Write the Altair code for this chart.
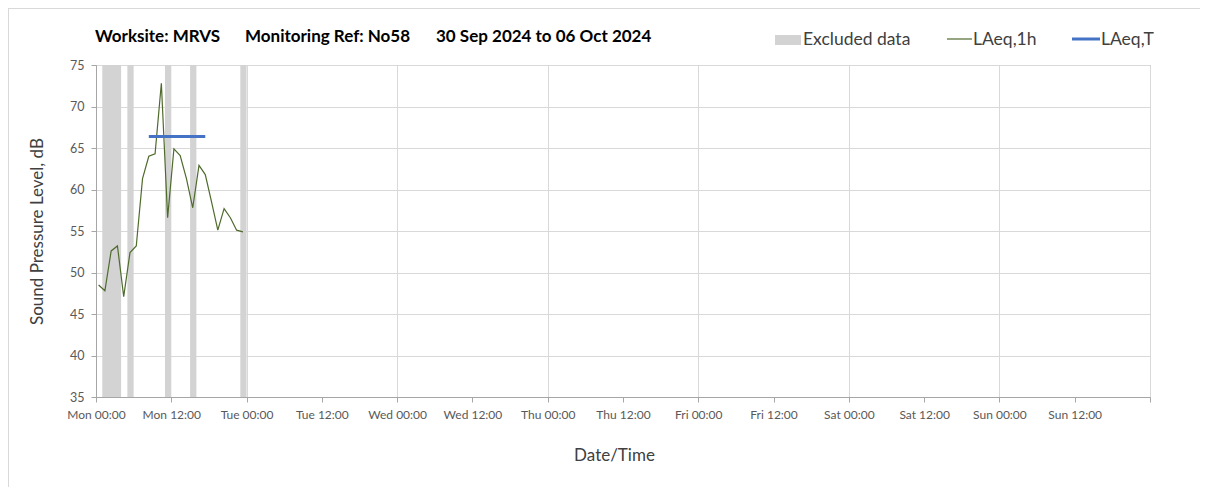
import altair as alt
import pandas as pd

# ---- data ----
laeq_1h_time = [
    "2024-09-30T00:25:00", "2024-09-30T01:25:00", "2024-09-30T02:25:00", "2024-09-30T03:25:00",
    "2024-09-30T04:25:00", "2024-09-30T05:25:00", "2024-09-30T06:25:00", "2024-09-30T07:25:00",
    "2024-09-30T08:25:00", "2024-09-30T09:25:00", "2024-09-30T10:25:00", "2024-09-30T11:25:00",
    "2024-09-30T12:25:00", "2024-09-30T13:25:00", "2024-09-30T14:25:00", "2024-09-30T15:25:00",
    "2024-09-30T16:25:00", "2024-09-30T17:25:00", "2024-09-30T18:25:00", "2024-09-30T19:25:00",
    "2024-09-30T20:25:00", "2024-09-30T21:25:00", "2024-09-30T22:25:00", "2024-09-30T23:25:00",
]
laeq_1h_value = [
    48.5, 47.8, 52.6, 53.2, 47.1, 52.4, 53.2, 61.3,
    64.0, 64.3, 72.8, 56.6, 64.9, 64.1, 61.3, 57.8,
    62.9, 61.8, 58.5, 55.1, 57.7, 56.6, 55.1, 54.9,
]
laeq_t_start = ["2024-09-30T08:25:00"]
laeq_t_end = ["2024-09-30T17:25:00"]
laeq_t_value = [66.4]

excluded_start = ["2024-09-30T01:00:00", "2024-09-30T05:00:00", "2024-09-30T11:00:00",
                  "2024-09-30T15:00:00", "2024-09-30T23:00:00"]
excluded_end = ["2024-09-30T04:00:00", "2024-09-30T06:00:00", "2024-09-30T12:00:00",
                "2024-09-30T16:00:00", "2024-10-01T00:00:00"]

# x tick positions (month, day, hour) every 12 h
x_ticks = [(9, 30, 0), (9, 30, 12), (10, 1, 0), (10, 1, 12), (10, 2, 0), (10, 2, 12),
           (10, 3, 0), (10, 3, 12), (10, 4, 0), (10, 4, 12), (10, 5, 0), (10, 5, 12),
           (10, 6, 0), (10, 6, 12), (10, 7, 0)]
y_ticks = [35, 40, 45, 50, 55, 60, 65, 70, 75]

title_parts = ["Worksite: MRVS", "Monitoring Ref: No58", "30 Sep 2024 to 06 Oct 2024"]
legend_labels = ["Excluded data", "LAeq,1h", "LAeq,T"]

FONT = "Lato"
W, H = 1054, 332

df_line = pd.DataFrame({"time": laeq_1h_time, "level": laeq_1h_value})
df_t = pd.DataFrame({"start": laeq_t_start, "end": laeq_t_end, "level": laeq_t_value})
df_ex = pd.DataFrame({"start": excluded_start, "end": excluded_end,
                      "top": [75] * len(excluded_start), "bottom": [35] * len(excluded_start)})

tick_dt = [alt.DateTime(year=2024, month=m, date=d, hours=h) for (m, d, h) in x_ticks]
x_scale = alt.Scale(domain=[tick_dt[0], tick_dt[-1]])
y_scale = alt.Scale(domain=[35, 75], nice=False)

x_axis = alt.Axis(
    values=tick_dt,
    labelExpr="datum.value >= datetime(2024, 9, 7, 0, 0) ? '' : timeFormat(datum.value, '%a %H:%M')",
    labelOverlap=False,
    labelFlush=False,
    grid=True,
    gridColor="#d9d9d9",
    gridOpacity={"condition": {"test": "hours(datum.value) == 0", "value": 1}, "value": 0},
    title="Date/Time",
    titleX=518, titleY=58, titleAlign="center", titleBaseline="middle",
    labelPadding=7,
)
y_axis = alt.Axis(
    values=y_ticks,
    grid=True,
    gridColor="#d9d9d9",
    title="Sound Pressure Level, dB",
    titleX=-59, titleY=H / 2, titleAngle=270, titleAlign="center", titleBaseline="middle",
    labelPadding=7,
    labelFontSize=12.5,
)

bands = alt.Chart(df_ex).mark_rect(color="#d3d3d3").encode(
    x=alt.X("start:T", scale=x_scale, axis=x_axis),
    x2="end:T",
    y=alt.Y("top:Q", scale=y_scale, axis=y_axis),
    y2="bottom:Q",
)
line = alt.Chart(df_line).mark_line(color="#4f6b2c", strokeWidth=1.2).encode(
    x="time:T", y="level:Q"
)
laeq_t = alt.Chart(df_t).mark_rule(color="#4472c4", strokeWidth=3).encode(
    x="start:T", x2="end:T", y="level:Q"
)


def text_layer(txt, x, y, size, weight="normal", color="#404040"):
    return alt.Chart(pd.DataFrame({"t": [txt]})).mark_text(
        align="left", baseline="middle", font=FONT, fontSize=size, fontWeight=weight, color=color
    ).encode(text="t:N", x=alt.value(x), y=alt.value(y))


title_layers = [
    text_layer(title_parts[0], -1, -28, 17, "bold", "#000000"),
    text_layer(title_parts[1], 149, -28, 17, "bold", "#000000"),
    text_layer(title_parts[2], 340, -28, 17, "bold", "#000000"),
]

one = pd.DataFrame({"k": [0]})
leg_rect = alt.Chart(one).mark_rect(color="#d3d3d3").encode(
    x=alt.value(679), x2=alt.value(705), y=alt.value(-30), y2=alt.value(-20))
leg_line1 = alt.Chart(one).mark_rule(color="#4f6b2c", strokeWidth=1.2).encode(
    x=alt.value(851), x2=alt.value(876), y=alt.value(-26))
leg_line2 = alt.Chart(one).mark_rule(color="#4472c4", strokeWidth=3).encode(
    x=alt.value(976), x2=alt.value(1004), y=alt.value(-26))
legend_layers = [
    leg_rect, leg_line1, leg_line2,
    text_layer(legend_labels[0], 707, -25, 17.5),
    text_layer(legend_labels[1], 877, -25, 17.5),
    text_layer(legend_labels[2], 1005, -25, 17.5),
]

frame_left = alt.Chart(one).mark_rule(color="#d9d9d9", strokeWidth=1).encode(
    x=alt.value(-87.5), y=alt.value(-57), y2=alt.value(430))
frame_top = alt.Chart(one).mark_rule(color="#d9d9d9", strokeWidth=1).encode(
    x=alt.value(-88), x2=alt.value(1120), y=alt.value(-56.5))

chart = alt.layer(
    bands, line, laeq_t, *title_layers, *legend_layers, frame_left, frame_top
).properties(
    width=W, height=H,
    autosize=alt.AutoSizeParams(type="none"),
    padding={"left": 88, "top": 57, "right": 50, "bottom": 90},
).configure_view(
    stroke="#a6a6a6", strokeWidth=1
).configure_axis(
    domainColor="#a6a6a6", tickColor="#a6a6a6", tickSize=5,
    labelFont=FONT, labelFontSize=12, labelColor="#595959",
    titleFont=FONT, titleFontSize=17, titleFontWeight="normal", titleColor="#404040",
)

chart.save("out.html", embed_options={"renderer": "svg", "actions": False})
